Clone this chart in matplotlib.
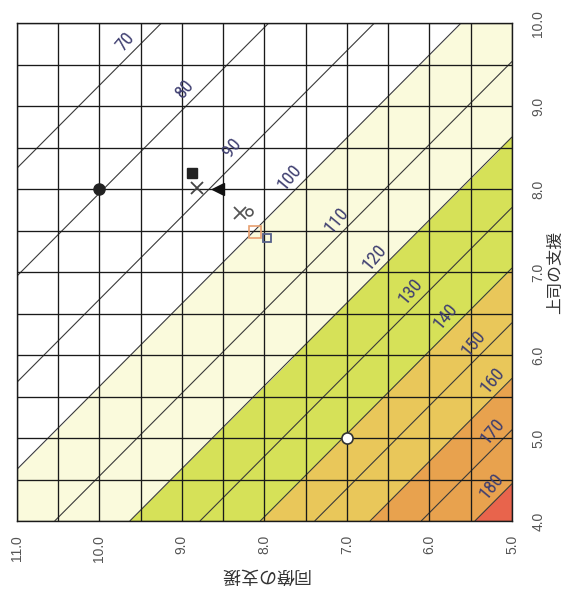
import numpy as np
import matplotlib
matplotlib.use("Agg")
import matplotlib.pyplot as plt
from matplotlib import transforms
from matplotlib import font_manager

# ---------------- data ----------------
coworker_ticks = [11.0, 10.0, 9.0, 8.0, 7.0, 6.0, 5.0]      # 同僚の支援 (bottom axis)
supervisor_ticks = [4.0, 5.0, 6.0, 7.0, 8.0, 9.0, 10.0]     # 上司の支援 (right axis)

contour_values = [70, 80, 90, 100, 110, 120, 130, 140, 150, 160, 170, 180]
# position of each contour line, as the sum (coworker + supervisor) it runs along
contour_support_sum = [19.25, 17.95, 16.67, 15.62, 14.54, 13.63, 12.78, 12.05,
                       11.39, 10.72, 10.10, 9.45]
# contour values that bound the coloured bands
band_boundary_values = [180, 160, 140, 120, 100]

point_coworker = [10.0, 8.88, 8.82, 8.56, 8.30, 8.18, 8.11, 7.97, 7.0]
point_supervisor = [8.0, 8.19, 8.01, 8.0, 7.71, 7.72, 7.49, 7.41, 5.0]

# ---------------- styles ----------------
band_colors = ['#e8644c', '#e8a24e', '#e9c75a', '#d6e158', '#fafadc', '#ffffff']
point_styles = [
    dict(marker='o', ms=8, mfc='#222222', mec='#222222'),
    dict(marker='s', ms=7, mfc='#222222', mec='#222222'),
    dict(marker='x', ms=8, mec='#444444', mew=1.3),
    dict(marker='<', ms=8, mfc='#111111', mec='#111111'),
    dict(marker='x', ms=8, mec='#555555', mew=1.3),
    dict(marker='o', ms=5, mfc='none', mec='#555555', mew=1.2),
    dict(marker='s', ms=8, mfc='none', mec='#e8a070', mew=1.2),
    dict(marker='s', ms=6, mfc='none', mec='#55608a', mew=1.3),
    dict(marker='o', ms=8, mfc='#ffffff', mec='#333333', mew=1.2),
]
installed = {f.name for f in font_manager.fontManager.ttflist}
narrow = [f for f in ['Liberation Sans Narrow', 'Roboto Condensed', 'Liberation Sans']
          if f in installed] + ['DejaVu Sans']
label_font = ['Liberation Sans', 'DejaVu Sans']
cjk_font = ['Noto Sans CJK JP', 'DejaVu Sans']

fig = plt.figure(figsize=(5.67, 5.91), dpi=100)
ax = fig.add_axes([16.7 / 567, 1 - 521 / 591, (512 - 16.7) / 567, (521 - 23.3) / 591])

c = np.linspace(5, 11, 241)
s = np.linspace(4, 10, 241)
C, S = np.meshgrid(c, s)
T = C + S

value_to_sum = dict(zip(contour_values, contour_support_sum))
band_sums = [0.0] + [value_to_sum[v] for v in band_boundary_values] + [30.0]
ax.contourf(C, S, T, levels=band_sums, colors=band_colors, zorder=0)

# grid every 0.5
ax.set_xticks(np.arange(5, 11.01, 0.5), minor=True)
ax.set_yticks(np.arange(4, 10.01, 0.5), minor=True)
ax.grid(which='both', color='#1a1a1a', linewidth=0.95, zorder=1)
ax.set_axisbelow(False)

ax.set_xlim(11, 5)
ax.set_ylim(4, 10)

order = np.argsort(contour_support_sum)
lev = [contour_support_sum[i] for i in order]
cs = ax.contour(C, S, T, levels=lev, colors='#3a3a3a', linewidths=0.8, zorder=2)
fmt = {value_to_sum[v]: str(v) for v in contour_values}

label_coworker = [9.58, 8.85, 8.28, 7.58, 7.02, 6.56, 6.12, 5.69, 5.35, 5.13, 5.12, 5.14]
manual = [(cw, value_to_sum[v] - cw) for cw, v in zip(label_coworker, contour_values)]
txts = ax.clabel(cs, levels=lev, fmt=fmt, manual=manual, inline=False,
                 fontsize=13.5, colors='#3e3e70')

# screen angle of the contour lines (they run along constant coworker+supervisor)
p0 = ax.transData.transform((8.0, 6.0))
p1 = ax.transData.transform((7.0, 7.0))
angle = np.degrees(np.arctan2(p1[1] - p0[1], p1[0] - p0[0]))
shift = transforms.ScaledTranslation(-9 / 100, 9 / 100, fig.dpi_scale_trans)
for t in txts:
    t.set_fontfamily(narrow)
    t.set_rotation(angle + 5)
    t.set_transform(t.get_transform() + shift)
    t.set_zorder(4)

for cw, sp, st in zip(point_coworker, point_supervisor, point_styles):
    ax.plot([cw], [sp], linestyle='none', zorder=5, **st)

ax.yaxis.tick_right()
ax.yaxis.set_label_position('right')
ax.set_xticks(coworker_ticks)
ax.set_xticklabels([f"{v:.1f}" for v in coworker_ticks], rotation=90,
                   fontfamily=label_font, fontsize=10, color='#555555')
ax.set_yticks(supervisor_ticks)
ax.set_yticklabels([f"{v:.1f}" for v in supervisor_ticks], rotation=90, va='center',
                   fontfamily=label_font, fontsize=10, color='#555555')
ax.tick_params(axis='x', which='both', length=0, pad=10)
ax.tick_params(axis='y', which='both', length=0, pad=14)
ax.set_xlabel('同僚の支援', rotation=180, fontfamily=cjk_font, fontsize=13,
              color='#333333', labelpad=3)
ax.set_ylabel('上司の支援', rotation=90, fontfamily=cjk_font, fontsize=12,
              color='#333333', labelpad=1)
for sp_ in ax.spines.values():
    sp_.set_color('#1a1a1a')
    sp_.set_linewidth(1.0)

fig.savefig('out.png', dpi=100)
